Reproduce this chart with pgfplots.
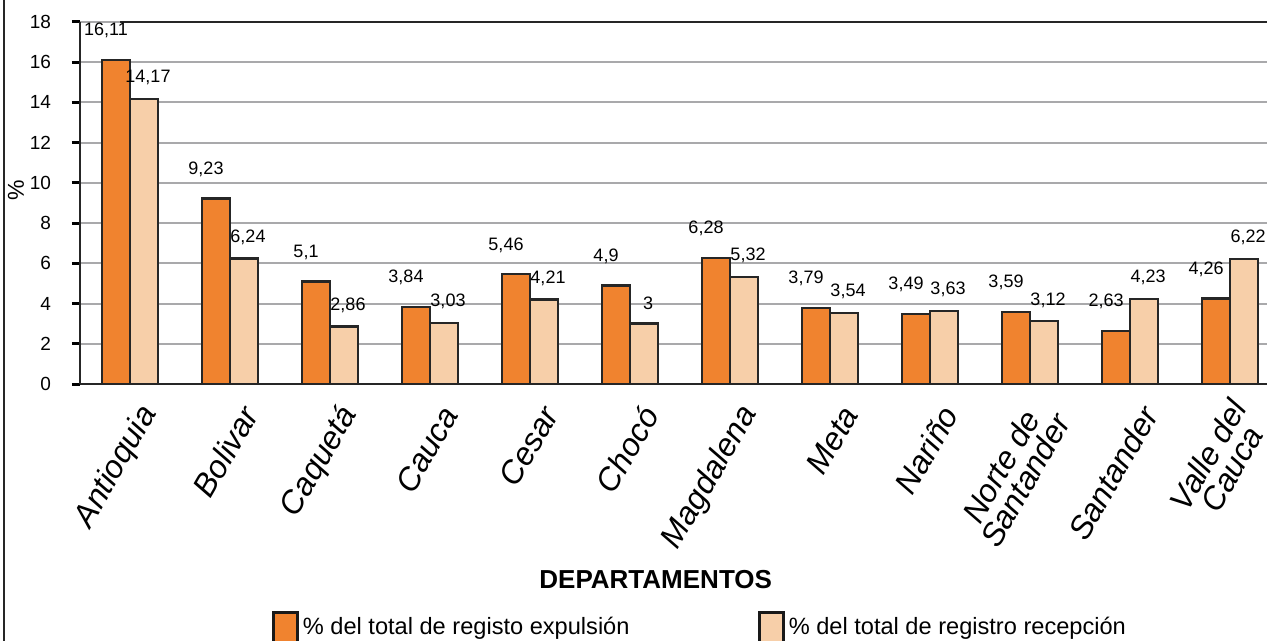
\documentclass[border=0pt]{standalone}
\usepackage{pgfplots}
\pgfplotsset{compat=1.18}
\usepackage{fontspec}
\setmainfont{Liberation Sans}
\definecolor{expul}{HTML}{F0832F}
\definecolor{recep}{HTML}{F7CFA9}
\definecolor{gridg}{HTML}{A9A9AB}
\begin{document}
\begin{tikzpicture}
\begin{axis}[
  scale only axis, width=593.5pt, height=181pt,
  ymin=0, ymax=18, ytick={0,2,...,18},
  xmin=-0.5, xmax=11.37,
  axis x line*=bottom, axis y line*=left,
  axis line style={black!85, line width=1pt},
  ymajorgrids, major grid style={gridg, line width=1pt},
  ybar=0pt, bar width=14pt,
  xtick={0,...,11},
  xticklabels={Antioquia,Bolivar,Caquetá,Cauca,Cesar,Chocó,Magdalena,Meta,Nariño,{Norte de\\Santander},Santander,{Valle del\\Cauca}},
  xticklabel style={rotate=60, anchor=east, align=center, xshift=1pt, yshift=-13pt,
    font=\fontsize{16}{14}\selectfont\itshape},
  major x tick style={draw=none},
  extra x ticks={-0.5,0.5,...,10.5}, extra x tick labels={},
  extra x tick style={tick align=outside, major tick length=7pt, tick style={black, line width=1.5pt}},
  ytick align=outside, major tick length=4pt,
  ytick style={black, line width=1.5pt},
  yticklabel style={font=\fontsize{9.5}{9.5}\selectfont, xshift=-7pt},
  /pgf/number format/assume math mode=true,
  nodes near coords,
  nodes near coords style={font=\fontsize{9}{9}\selectfont, /pgf/number format/use comma},
  xlabel={DEPARTAMENTOS},
  xlabel style={at={(axis description cs:0.485,-0.54)}, anchor=center, font=\fontsize{13}{13}\selectfont\bfseries},
  ylabel={\%},
  ylabel style={at={(axis description cs:-0.054,0.536)}, anchor=center, font=\fontsize{11.5}{11.5}\selectfont},
  legend columns=2,
  legend style={at={(axis description cs:0.523,-0.672)}, anchor=center, draw=none,
    font=\fontsize{11.8}{11.8}\selectfont, /tikz/every even column/.append style={column sep=62pt}},
  legend image code/.code={\draw[#1, draw=black!90, line width=1.6pt] (0pt,-7.5pt) rectangle (12pt,7.5pt);},
]
\addplot[fill=expul, draw=black!85, line width=1.2pt,
  nodes near coords style={xshift=-5pt, yshift=7pt}] coordinates {
(0,16.11) (1,9.23) (2,5.1) (3,3.84) (4,5.46) (5,4.9) (6,6.28) (7,3.79) (8,3.49) (9,3.59) (10,2.63) (11,4.26)};
\addplot[fill=recep, draw=black!85, line width=1.2pt,
  nodes near coords style={xshift=2pt, yshift=3pt}] coordinates {
(0,14.17) (1,6.24) (2,2.86) (3,3.03) (4,4.21) (5,3) (6,5.32) (7,3.54) (8,3.63) (9,3.12) (10,4.23) (11,6.22)};
\legend{\% del total de registo expulsión, \% del total de registro recepción}
\draw[black!85, line width=1pt] (rel axis cs:0,1) ++(-5pt,0) -- (rel axis cs:1,1);
\coordinate (bl) at (rel axis cs:0,0);
\coordinate (tr) at (rel axis cs:1,1);
\end{axis}
\draw[black!85, line width=1pt] ([shift={(-38pt,-128.5pt)}]bl) -- ([shift={(-38pt,11pt)}]bl |- tr);
\pgfresetboundingbox
\path[use as bounding box] ([shift={(-40pt,-128.5pt)}]bl) rectangle ([shift={(0pt,11pt)}]tr);
\end{tikzpicture}
\end{document}
